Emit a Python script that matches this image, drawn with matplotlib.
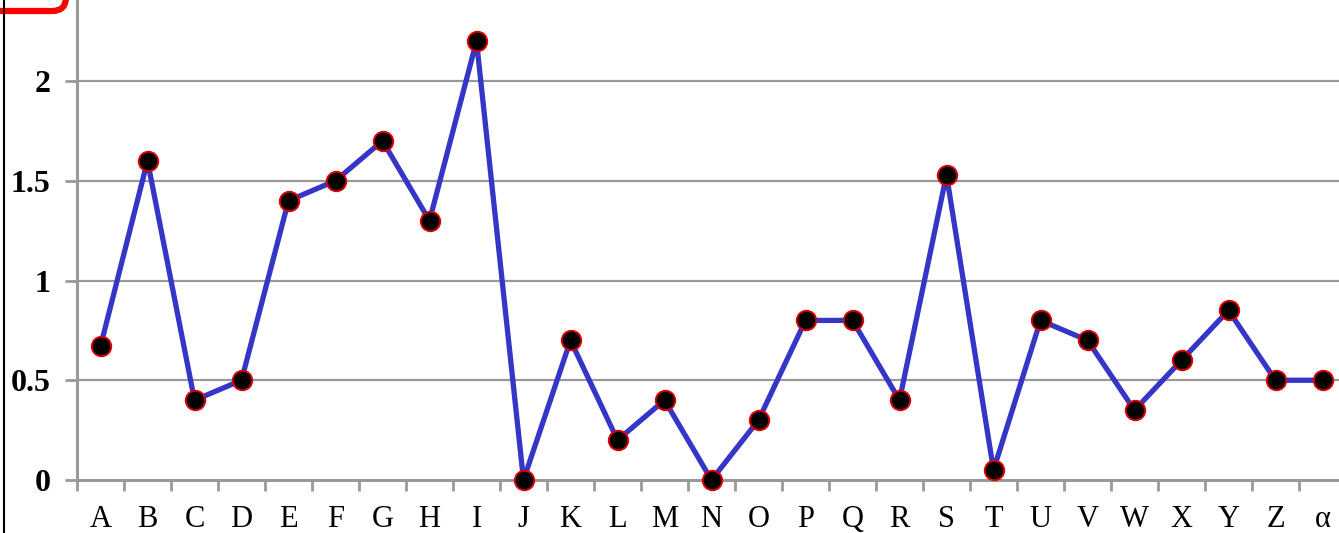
import matplotlib
matplotlib.use("Agg")
import matplotlib.pyplot as plt
from matplotlib.patches import FancyBboxPatch
from matplotlib.lines import Line2D
from matplotlib.transforms import IdentityTransform
import numpy as np

categories = ["A", "B", "C", "D", "E", "F", "G", "H", "I", "J", "K", "L", "M",
              "N", "O", "P", "Q", "R", "S", "T", "U", "V", "W", "X", "Y", "Z", "α"]
values = [0.67, 1.6, 0.4, 0.5, 1.4, 1.5, 1.7, 1.3, 2.2, 0.0, 0.7, 0.2, 0.4,
          0.0, 0.3, 0.8, 0.8, 0.4, 1.53, 0.05, 0.8, 0.7, 0.35, 0.6, 0.85, 0.5, 0.5]
y_ticks = [0, 0.5, 1, 1.5, 2]
y_tick_labels = ["0", "0.5", "1", "1.5", "2"]

W, H = 1339, 533
fig = plt.figure(figsize=(W / 100, H / 100), dpi=100)
fig.patch.set_facecolor("white")

# Plot area extends past the top and right edges of the canvas
left_px, right_px = 77, 1346
bottom_px = 53
ymax = 2.5
px_per_unit = 199.5
height_px = ymax * px_per_unit
ax = fig.add_axes([left_px / W, bottom_px / H, (right_px - left_px) / W, height_px / H])
ax.set_facecolor("none")

x = np.arange(len(categories))
ax.set_xlim(-0.5, len(categories) - 0.5)
ax.set_ylim(0, ymax)

grey = "#999999"
for yv in y_ticks[1:]:
    ax.axhline(yv, color=grey, lw=1.6, zorder=1)

for side in ["top", "right"]:
    ax.spines[side].set_visible(False)
for side in ["left", "bottom"]:
    ax.spines[side].set_color(grey)
    ax.spines[side].set_linewidth(2.2)

ax.plot(x, values, color="#3535C8", lw=3.8, zorder=3, solid_joinstyle="round",
        marker="o", markersize=14, markerfacecolor="black",
        markeredgecolor="#DD0000", markeredgewidth=1.4, clip_on=False)

# category labels centred, tick marks on the boundaries
ax.set_xticks(x)
ax.set_xticklabels(categories, fontfamily="Liberation Serif", fontsize=22)
ax.tick_params(axis="x", which="major", length=0, pad=18)
ax.set_xticks(np.arange(len(categories) + 1) - 0.5, minor=True)
ax.tick_params(axis="x", which="minor", length=8, width=2, color=grey, direction="out")

ax.set_yticks(y_ticks)
ax.set_yticklabels(y_tick_labels, fontfamily="Liberation Serif", fontsize=23,
                   fontweight="bold")
ax.tick_params(axis="y", length=9, width=2, color=grey, direction="out", pad=10)

# frame pieces on the left edge
fig.add_artist(Line2D([3.5 / W, 3.5 / W], [0, 1], color="black", lw=1.5,
                      transform=fig.transFigure))
box = FancyBboxPatch((-60, H - 11), 126, 60,
                     boxstyle="round,pad=0,rounding_size=14",
                     transform=IdentityTransform(), fill=False,
                     edgecolor="#FF0000", lw=4.5)
fig.add_artist(box)

fig.savefig("out.png", dpi=100, facecolor="white")
